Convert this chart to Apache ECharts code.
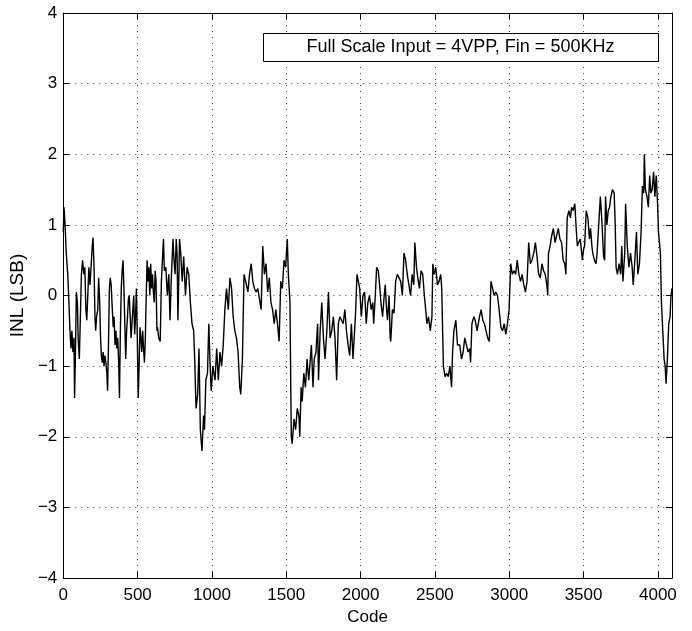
<!DOCTYPE html>
<html>
<head>
<meta charset="utf-8">
<script src="https://cdn.jsdelivr.net/npm/echarts@6/dist/echarts.min.js"></script>
<style>
  html, body { margin: 0; padding: 0; background: #fff; }
  #chart { width: 692px; height: 631px; }
</style>
</head>
<body>
<div id="chart"></div>
<script>
// INL readings [code, LSB]
const inlA = [[0,0.9],[5,1.25],[12,1.0],[20,0.6],[30,0.3],[38,-0.1],[45,-0.5],[52,-0.75],[58,-0.5],[65,-0.8],[72,-0.6],[76,-1.45],[82,-0.8],[88,0.05],[95,-0.1],[100,-0.6],[108,-0.9],[115,-0.3],[122,0.3],[130,0.5],[138,0.3],[145,0.4],[152,-0.2],[158,-0.35],[165,0.0],[172,0.4],[180,0.15],[188,0.45],[195,0.7],[200,0.82],[207,0.4],[213,-0.3],[218,-0.5],[224,-0.3],[232,-0.2],[238,0.25],[245,-0.1],[250,-0.55],[256,-0.85],[262,-0.95],[268,-0.8],[274,-1.0],[280,-0.85],[287,-0.95],[293,-1.1],[298,-1.35],[304,-0.7],[310,0.1],[316,0.25],[322,0.15],[330,-0.2],[336,-0.45],[342,-0.3],[348,-0.7],[354,-0.5],[360,-0.75],[366,-0.6],[372,-0.9],[378,-1.45],[384,-0.5],[390,0.1],[396,0.35],[402,0.5],[408,0.1],[414,-0.4],[420,-0.9],[426,-0.5],[432,-0.3],[438,-0.05],[444,0.0],[450,-0.3],[456,-0.6],[462,-0.4],[468,-0.2],[474,0.0],[480,-0.55],[486,-0.3],[492,0.1],[498,-0.6],[504,-1.45],[510,-1.0],[516,-0.45],[522,-0.6],[528,-0.8],[534,-0.5],[540,-0.75],[546,-0.95],[552,-0.6],[558,0.0],[564,0.5],[570,0.2],[576,0.4],[582,0.0],[588,0.45],[594,0.1],[600,0.3],[606,0.05],[612,-0.1],[618,0.35],[624,0.2],[630,-0.5]];
const inlB = [[634,-0.45],[642,-0.6],[652,-0.65],[660,0.2],[674,0.8],[680,0.35],[690,0.4],[700,0.0],[710,0.3],[718,-0.35],[726,0.2],[738,0.8],[745,0.5],[752,0.3],[760,0.8],[766,0.55],[771,-0.35],[778,0.3],[782,0.8],[790,0.6],[800,0.2],[810,0.55],[822,0.0],[833,0.4],[844,0.3],[855,-0.1],[866,-0.4],[877,-0.5],[884,-0.9],[893,-1.6],[904,-1.4],[913,-0.75],[922,-1.9],[933,-2.2],[944,-1.7],[950,-1.9],[959,-1.2],[970,-1.1],[979,-0.4],[988,-1.0],[995,-1.35],[1006,-1.0],[1021,-1.2],[1032,-0.75],[1043,-1.2],[1054,-0.8],[1065,-1.0],[1076,-0.7],[1087,-0.2],[1098,0.1],[1110,-0.2],[1121,0.25],[1132,0.1],[1143,-0.3],[1154,-0.5],[1165,-0.6],[1176,-0.8],[1187,-1.3],[1194,-1.4],[1205,-0.9],[1216,0.3],[1227,0.2],[1242,0.05],[1253,0.3],[1264,0.45],[1275,0.2],[1286,0.1],[1297,0.05],[1308,0.1],[1320,-0.05],[1331,-0.2]];
const inlC = [[1342,0.7],[1353,0.3],[1364,0.45],[1375,0.05],[1386,0.25],[1397,-0.1],[1408,-0.2],[1419,-0.4],[1430,-0.2],[1441,-0.4],[1452,-0.65],[1463,0.2],[1474,0.1],[1485,0.5],[1496,0.4],[1507,0.8],[1514,0.3],[1521,0.05],[1525,-0.1],[1530,-1.2],[1534,-2.0],[1540,-2.1],[1552,-1.75],[1563,-1.9],[1574,-1.6],[1585,-1.7],[1591,-2.0],[1600,-1.3],[1607,-1.5],[1618,-1.1],[1629,-1.3],[1640,-0.9],[1651,-1.2],[1662,-0.9],[1669,-0.7],[1680,-1.3],[1688,-0.9],[1700,-0.8],[1711,-0.4],[1717,-1.2],[1728,-0.5],[1739,-0.1],[1750,-0.6],[1761,-0.9],[1773,-0.5],[1784,0.05],[1795,-0.6],[1806,-0.5],[1817,-0.3],[1828,-0.6],[1839,-1.2],[1850,-0.4],[1861,-0.3],[1872,-0.3],[1883,-0.4],[1894,-0.2],[1905,-0.5],[1916,-0.7],[1927,-0.85],[1938,-0.4],[1949,-0.9],[1956,-0.9],[1965,-0.3],[1976,0.3],[1985,0.2],[1994,0.1],[2005,-0.3],[2016,0.0]];
const inlD = [[2027,0.05],[2038,-0.4],[2049,-0.1],[2060,0.0],[2071,-0.2],[2082,-0.1],[2088,-0.4],[2099,0.0],[2108,0.4],[2119,0.35],[2126,0.2],[2137,-0.1],[2148,-0.3],[2159,0.0],[2166,0.15],[2175,-0.2],[2181,-0.35],[2192,0.0],[2199,-0.6],[2203,-0.65],[2214,-0.2],[2225,-0.25],[2236,0.2],[2247,0.3],[2259,0.25],[2270,0.2],[2281,0.0],[2292,0.6],[2303,0.5],[2314,0.3],[2325,0.15],[2336,0.0],[2347,0.3],[2358,0.15],[2365,0.75],[2376,0.4],[2385,0.25],[2396,0.1],[2407,0.35],[2418,0.3],[2429,0.0],[2438,-0.2],[2446,-0.4],[2457,-0.3],[2469,-0.5],[2480,-0.3],[2486,0.45],[2495,0.3],[2506,0.4],[2517,0.15],[2528,0.2],[2539,0.3],[2546,0.1],[2553,-0.6],[2557,-1.0],[2568,-1.15],[2579,-1.1],[2590,-1.15],[2601,-1.0],[2612,-1.3],[2619,-0.8],[2628,-0.5],[2641,-0.35],[2652,-0.7],[2667,-0.7],[2679,-0.9],[2690,-0.8],[2701,-0.6],[2712,-0.7]];
const inlE = [[2723,-0.8],[2734,-0.75],[2740,-0.95],[2749,-0.4],[2762,-0.3],[2771,-0.35],[2784,-0.5],[2800,-0.3],[2811,-0.2],[2822,-0.35],[2833,-0.4],[2844,-0.5],[2855,-0.6],[2866,-0.65],[2877,0.2],[2888,0.1],[2899,0.0],[2910,0.05],[2921,0.0],[2932,-0.2],[2944,-0.45],[2955,-0.5],[2966,-0.4],[2977,-0.55],[2988,-0.4],[2999,-0.2],[3010,0.45],[3021,0.3],[3032,0.35],[3043,0.3],[3054,0.5],[3065,0.3],[3076,0.2],[3087,0.3],[3098,0.15],[3109,0.05],[3120,0.2],[3131,0.75],[3142,0.45],[3153,0.5],[3165,0.6],[3176,0.75],[3187,0.55],[3198,0.3],[3209,0.25],[3220,0.45],[3231,0.35],[3242,0.3],[3253,0.15],[3259,0.0],[3264,0.6],[3275,0.7],[3286,0.85],[3297,0.95],[3308,0.75],[3319,0.85],[3330,0.95],[3341,0.8],[3352,0.75],[3363,0.5],[3374,0.45],[3381,0.3],[3390,1.1],[3401,1.2],[3412,1.1]];
const inlF = [[3419,1.25],[3430,1.2],[3441,1.3],[3452,0.9],[3458,0.7],[3467,0.75],[3478,0.8],[3485,0.65],[3492,0.5],[3500,0.65],[3507,0.7],[3518,1.2],[3529,1.1],[3540,0.8],[3547,0.95],[3556,0.7],[3562,0.6],[3573,0.5],[3584,0.45],[3591,0.6],[3602,1.0],[3613,1.4],[3622,1.1],[3629,0.8],[3635,0.55],[3642,0.5],[3648,1.4],[3657,1.0],[3666,1.2],[3675,1.25],[3684,1.4],[3695,1.5],[3706,1.45],[3713,1.0],[3719,0.4],[3728,0.3],[3739,0.45],[3750,0.3],[3757,0.7],[3765,0.2],[3777,0.6],[3783,1.3],[3794,0.7],[3805,0.4],[3816,0.6],[3827,0.4],[3834,0.15],[3845,0.5],[3856,0.9],[3865,0.3],[3876,0.45],[3887,0.9],[3896,1.55],[3905,1.45],[3909,2.0],[3916,1.5],[3927,1.4],[3936,1.25],[3945,1.7],[3953,1.45],[3962,1.5],[3971,1.75],[3980,1.4],[3989,1.7],[3998,1.3],[4004,0.9],[4011,0.9],[4017,0.6],[4024,-0.1],[4033,-0.5],[4042,-0.9],[4049,-1.0],[4055,-1.25],[4064,-0.9],[4073,-0.4],[4082,-0.3],[4088,0.0],[4095,0.1]];

const xTicks = [0, 500, 1000, 1500, 2000, 2500, 3000, 3500, 4000];
const yTicks = [-4, -3, -2, -1, 0, 1, 2, 3, 4];
const noteText = 'Full Scale Input = 4VPP, Fin = 500KHz';

const inl = inlA.concat(inlB, inlC, inlD, inlE, inlF);
const font = '"Liberation Sans", Arial, Helvetica, sans-serif';

const gridLine = { show: true, lineStyle: { color: '#444', type: [1, 5], width: 1 } };
const boxLine = { show: true, onZero: false, lineStyle: { color: '#000', width: 1 } };
const inTick = { show: true, inside: true, length: 6, lineStyle: { color: '#000' } };

const chart = echarts.init(document.getElementById('chart'));
chart.setOption({
  animation: false,
  backgroundColor: '#fff',
  grid: { left: 54, right: 20, top: 13, bottom: 53 },
  xAxis: [{
    type: 'value', min: 0, max: 4095, interval: 500,
    name: 'Code', nameLocation: 'middle', nameGap: 30,
    nameTextStyle: { fontFamily: font, fontSize: 17, color: '#000' },
    axisLine: boxLine, axisTick: inTick, splitLine: gridLine,
    axisLabel: {
      margin: 9, fontFamily: font, fontSize: 17, color: '#000',
      formatter: v => xTicks.indexOf(v) >= 0 ? String(v) : ''
    }
  }, {
    type: 'value', position: 'top', min: 0, max: 4095, interval: 500,
    axisLine: boxLine, axisTick: inTick, splitLine: { show: false },
    axisLabel: { show: false }
  }],
  yAxis: [{
    type: 'value', min: -4, max: 4, interval: 1,
    name: 'INL (LSB)', nameLocation: 'middle', nameGap: 31, nameRotate: 90,
    nameTextStyle: { fontFamily: font, fontSize: 19, color: '#000' },
    axisLine: boxLine, axisTick: inTick, splitLine: gridLine,
    axisLabel: {
      margin: 6, fontFamily: font, fontSize: 17, color: '#000',
      formatter: v => yTicks.indexOf(v) >= 0 ? String(v).replace('-', '\u2212') : ''
    }
  }, {
    type: 'value', position: 'right', min: -4, max: 4, interval: 1,
    axisLine: boxLine, axisTick: inTick, splitLine: { show: false },
    axisLabel: { show: false }
  }],
  graphic: [{
    type: 'rect', left: 263, top: 33, z: 100,
    shape: { width: 395, height: 28 },
    style: { fill: '#fff', stroke: '#000', lineWidth: 1 }
  }, {
    type: 'text', x: 460.5, y: 47, z: 101,
    style: {
      text: noteText, fill: '#000', font: '18px ' + font,
      textAlign: 'center', textVerticalAlign: 'middle'
    }
  }],
  series: [{
    type: 'line', data: inl, xAxisIndex: 0, yAxisIndex: 0,
    showSymbol: false, symbol: 'none',
    lineStyle: { color: '#000', width: 1.4 }
  }]
});
</script>
</body>
</html>
